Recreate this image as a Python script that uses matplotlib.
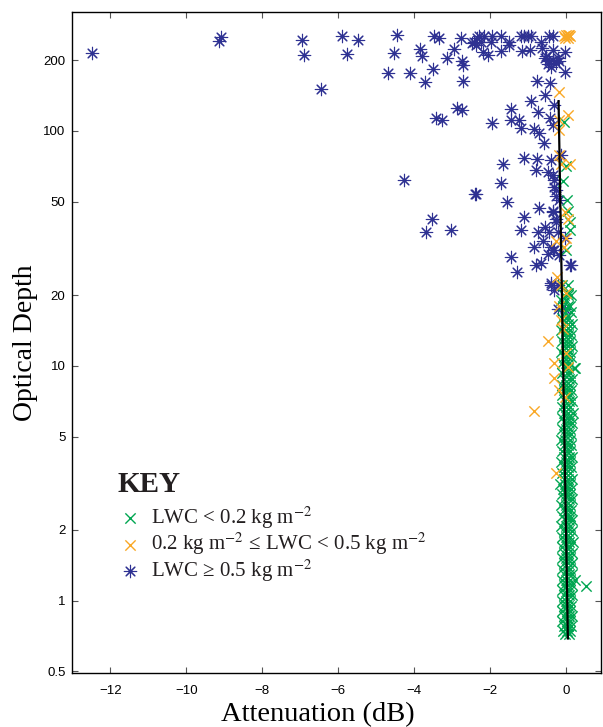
import matplotlib
matplotlib.use("Agg")
import matplotlib.pyplot as plt
from matplotlib.ticker import FixedLocator, FixedFormatter, NullLocator

plt.rcParams['mathtext.fontset'] = 'stix'

# LWC >= 0.5 kg m-2 (blue asterisks)
blue_x = [-12.47, -9.09, -9.13, -6.96, -6.90, -6.45,
          -5.90, -5.47, -5.76, -4.45, -4.52, -4.70, -4.12, -3.85, -3.80, -3.72,
          -3.51, -3.48, -3.34, -3.14, -2.94, -2.78, -2.75, -2.72, -2.71, -2.87,
          -2.75, -3.43, -3.27, -4.28, -2.39, -3.54, -3.70, -3.04, -2.47, -2.34,
          -2.29, -2.16, -1.94, -1.72, -1.19, -1.10, -1.01, -0.93, -0.44, -0.35,
          -2.43, -2.25, -1.98, -1.50, -0.66,
          -2.38, -2.20, -2.07, -1.72, -1.50, -1.15, -0.94, -0.64, -0.53, -0.35, -0.04,
          -0.57, -0.44, -0.35, -0.26, -0.18, -0.48, -0.40, -0.22,
          -0.04, -0.77, -0.42, -0.56, -0.93, -0.31, -1.46, -0.75, -1.94, -1.46,
          -1.24, -1.19, -0.42, -0.35, -0.84, -0.71, -0.59,
          -1.67, -1.12, -0.77, -0.79, -0.48, -0.40, -0.13, -2.38, -1.72, -1.56,
          -1.12, -0.71, -0.35, -1.19, -0.75, -0.57, -0.62, -0.84, -0.40, -1.46,
          -0.79, -0.66, -1.30, -0.40, -0.31, 0.09, -0.31, -0.26, -0.18, -0.26,
          -0.22, -0.31, -0.18, -0.04, -0.48, -0.22, -0.04, -0.22,
          -0.35, -0.31, -0.26, -0.35, -0.26, -0.44, -0.35, -0.40, 0.13]
blue_y = [214, 252, 242, 243, 211, 151,
          254, 245, 213, 256, 214, 176, 176, 224, 209, 162,
          183, 254, 250, 205, 224, 250, 198, 191, 164, 125,
          123, 114, 111, 62, 54, 42, 37, 38, 238, 248,
          254, 254, 254, 254, 254, 254, 254, 254, 254, 254,
          240, 240, 240, 240, 240,
          232, 217, 211, 218, 233, 218, 222, 226, 208, 221, 217,
          205, 198, 201, 194, 198, 192, 188, 205,
          178, 163, 160, 142, 134, 129, 124, 121, 108, 111,
          111, 103, 114, 106, 102, 98, 89,
          72, 77, 76, 68, 67, 75, 79, 54, 60, 50,
          43, 47, 45, 38, 37, 39, 34, 32, 32, 29,
          27, 27.5, 25, 22, 21, 27, 62, 56, 51, 42,
          37, 31, 29.5, 35, 30, 22, 17.4, 17.4,
          65, 58, 52.6, 45.5, 41, 37, 31, 22.5, 27]

# 0.2 <= LWC < 0.5 kg m-2 (orange crosses)
orange_x = [-0.05, 0.0, 0.04, 0.08, 0.10, -0.02, 0.06,
            -0.18, 0.06, -0.18, -0.20, -0.20, 0.09, -0.13, -0.04, 0.06, 0.0,
            -0.26, -0.06, -0.24, -0.13, 0.0,
            -0.48, -0.31, -0.33, -0.20, -0.84, -0.26, -0.09, 0.0, -0.13,
            -0.04, -0.18, 0.04]
orange_y = [254, 257, 255, 256, 253, 249, 250,
            147, 117, 111, 101, 79, 72, 72, 45, 42, 35,
            34, 32, 24, 22, 20.4,
            12.7, 10.3, 8.9, 7.9, 6.45, 3.5, 14.3, 11.3, 15.7,
            7.4, 17.9, 9.9]

# LWC < 0.2 kg m-2 (green crosses)
green_x = [-0.06, 0.0, -0.09, 0.03, 0.06, 0.09, 0.11, 0.0, 0.06,
           -0.10, 0.04, -0.05, 0.06, 0.12, -0.14, 0.0,
           -0.08, 0.04, 0.10, -0.02, 0.14, -0.12, 0.0, 0.08,
           -0.06, 0.05, 0.15, -0.14, 0.0, 0.10,
           -0.06, 0.06, 0.13, -0.12, 0.0, 0.09,
           -0.05, 0.05, 0.16, -0.13, -0.01, 0.10,
           -0.07, 0.04, 0.13, -0.12, 0.0, 0.08,
           -0.04, 0.06, 0.20, 0.24, -0.10, 0.02, 0.11,
           -0.05, 0.07, 0.15, -0.12, 0.0, 0.10,
           -0.06, 0.05, 0.13, -0.11, 0.01, 0.09,
           -0.04, 0.07, 0.15, -0.12, 0.0, 0.10,
           -0.06, 0.05, 0.18, -0.10, 0.02, 0.12,
           -0.04, 0.07, 0.15, -0.12, 0.0, 0.10,
           -0.06, 0.05, 0.14, -0.14, -0.02, 0.09,
           -0.07, 0.04, 0.13, -0.11, 0.01, 0.10,
           -0.05, 0.07, 0.16, -0.13, -0.01, 0.10,
           -0.06, 0.05, 0.14, -0.12, 0.0, 0.09,
           -0.05, 0.06, 0.15, -0.15, -0.02, 0.10,
           -0.08, 0.04, 0.14, -0.12, 0.0, 0.09,
           -0.05, 0.07, 0.16, -0.13, -0.01, 0.10,
           -0.07, 0.05, 0.14, -0.11, 0.01, 0.09,
           -0.04, 0.07, 0.16, -0.13, 0.0, 0.11,
           -0.06, 0.05, 0.15, -0.12, 0.0, 0.09,
           -0.05, 0.07, 0.17, -0.11, 0.01, 0.11,
           -0.05, 0.06, 0.15, -0.12, 0.0, 0.09,
           -0.06, 0.06, 0.16, -0.11, 0.01, 0.11,
           -0.05, 0.07, 0.15, -0.12, 0.0, 0.09, 0.22,
           -0.05, 0.06, 0.15, 0.53, -0.11, 0.02, 0.10,
           -0.05, 0.07, 0.16, -0.12, 0.0, 0.10,
           -0.06, 0.05, 0.14, -0.11, 0.01, 0.10,
           -0.05, 0.07, 0.15, -0.10, 0.02, 0.11,
           -0.05, 0.06, 0.13, -0.08, 0.03, 0.10, -0.02, 0.07]
green_y = [109, 71, 61, 51, 45.5, 41, 38, 31, 20.4,
           22, 22, 20, 20, 20, 19, 19,
           18, 18, 18, 17, 17, 16, 16, 16,
           15, 15, 15, 14.2, 14.2, 14.2,
           13.5, 13.5, 13.5, 12.8, 12.8, 12.8,
           12.1, 12.1, 12.1, 11.5, 11.5, 11.5,
           10.9, 10.9, 10.9, 10.3, 10.3, 10.3,
           9.8, 9.8, 9.8, 9.8, 9.3, 9.3, 9.3,
           8.8, 8.8, 8.8, 8.3, 8.3, 8.3,
           7.9, 7.9, 7.9, 7.5, 7.5, 7.5,
           7.1, 7.1, 7.1, 6.7, 6.7, 6.7,
           6.3, 6.3, 6.3, 6.0, 6.0, 6.0,
           5.7, 5.7, 5.7, 5.4, 5.4, 5.4,
           5.1, 5.1, 5.1, 4.85, 4.85, 4.85,
           4.6, 4.6, 4.6, 4.35, 4.35, 4.35,
           4.1, 4.1, 4.1, 3.9, 3.9, 3.9,
           3.7, 3.7, 3.7, 3.5, 3.5, 3.5,
           3.3, 3.3, 3.3, 3.15, 3.15, 3.15,
           3.0, 3.0, 3.0, 2.85, 2.85, 2.85,
           2.7, 2.7, 2.7, 2.56, 2.56, 2.56,
           2.43, 2.43, 2.43, 2.3, 2.3, 2.3,
           2.2, 2.2, 2.2, 2.08, 2.08, 2.08,
           1.97, 1.97, 1.97, 1.87, 1.87, 1.87,
           1.78, 1.78, 1.78, 1.69, 1.69, 1.69,
           1.6, 1.6, 1.6, 1.52, 1.52, 1.52,
           1.44, 1.44, 1.44, 1.37, 1.37, 1.37,
           1.3, 1.3, 1.3, 1.23, 1.23, 1.23, 1.23,
           1.17, 1.17, 1.17, 1.15, 1.11, 1.11, 1.11,
           1.06, 1.06, 1.06, 1.0, 1.0, 1.0,
           0.95, 0.95, 0.95, 0.9, 0.9, 0.9,
           0.86, 0.86, 0.86, 0.82, 0.82, 0.82,
           0.78, 0.78, 0.78, 0.745, 0.745, 0.745, 0.72, 0.72]

# fitted line (end points)
fit_x = [-0.20, 0.045]
fit_y = [134, 0.69]

yticks = [0.5, 1, 2, 5, 10, 20, 50, 100, 200]
ytick_labels = ['0.5', '1', '2', '5', '10', '20', '50', '100', '200']
xticks = [-12, -10, -8, -6, -4, -2, 0]

c_blue = '#2e3192'
c_green = '#00a651'
c_orange = '#f9a825'
serif = ['Liberation Serif', 'DejaVu Serif']

fig = plt.figure(figsize=(6.03, 7.27), dpi=100)
ax = fig.add_axes([0.12, 0.0743, 0.8775, 0.9096])

ax.scatter(blue_x, blue_y, marker=(8, 2, 0), s=80, color=c_blue, linewidths=0.8,
           label='LWC ≥ 0.5 kg m$^{-2}$', zorder=2)
ax.scatter(green_x, green_y, marker='x', s=55, color=c_green, linewidths=1.0,
           label='LWC < 0.2 kg m$^{-2}$', zorder=3)
ax.scatter(orange_x, orange_y, marker='x', s=55, color=c_orange, linewidths=1.0,
           label='0.2 kg m$^{-2}$ ≤ LWC < 0.5 kg m$^{-2}$', zorder=4)
ax.plot(fit_x, fit_y, color='black', lw=1.6, zorder=5)

ax.set_yscale('log')
ax.set_xlim(-13, 0.93)
ax.set_ylim(0.492, 322)
ax.yaxis.set_major_locator(FixedLocator(yticks))
ax.yaxis.set_major_formatter(FixedFormatter(ytick_labels))
ax.yaxis.set_minor_locator(NullLocator())
ax.set_xticks(xticks)

ax.tick_params(direction='in', length=4.5, width=0.8, color='#555555',
               top=True, right=True, labelsize=9.5)
ax.tick_params(axis='x', pad=9)
ax.tick_params(axis='y', pad=5)
for lab in ax.get_xticklabels() + ax.get_yticklabels():
    lab.set_family('Liberation Sans')
for sp in ax.spines.values():
    sp.set_linewidth(1.0)

ax.set_xlabel('Attenuation (dB)', family=serif, fontsize=20.5)
ax.xaxis.set_label_coords(0.463, -0.044, transform=ax.transAxes)
ax.set_ylabel('Optical Depth', family=serif, fontsize=20, labelpad=4)

h, l = ax.get_legend_handles_labels()
order = [1, 2, 0]
leg = ax.legend([h[i] for i in order], [l[i] for i in order], title='KEY',
                loc='upper left', bbox_to_anchor=(0.085, 0.306), frameon=False,
                prop={'family': serif, 'size': 15},
                title_fontproperties={'family': serif, 'size': 21,
                                      'weight': 'bold'},
                alignment='left', handletextpad=0.4, labelspacing=0.0,
                borderaxespad=0, borderpad=0, handlelength=1.2)
leg._legend_box.sep = 5
for t in leg.get_texts():
    t.set_color('#231f20')
leg.get_title().set_color('#231f20')

fig.savefig('out.png', dpi=100)
